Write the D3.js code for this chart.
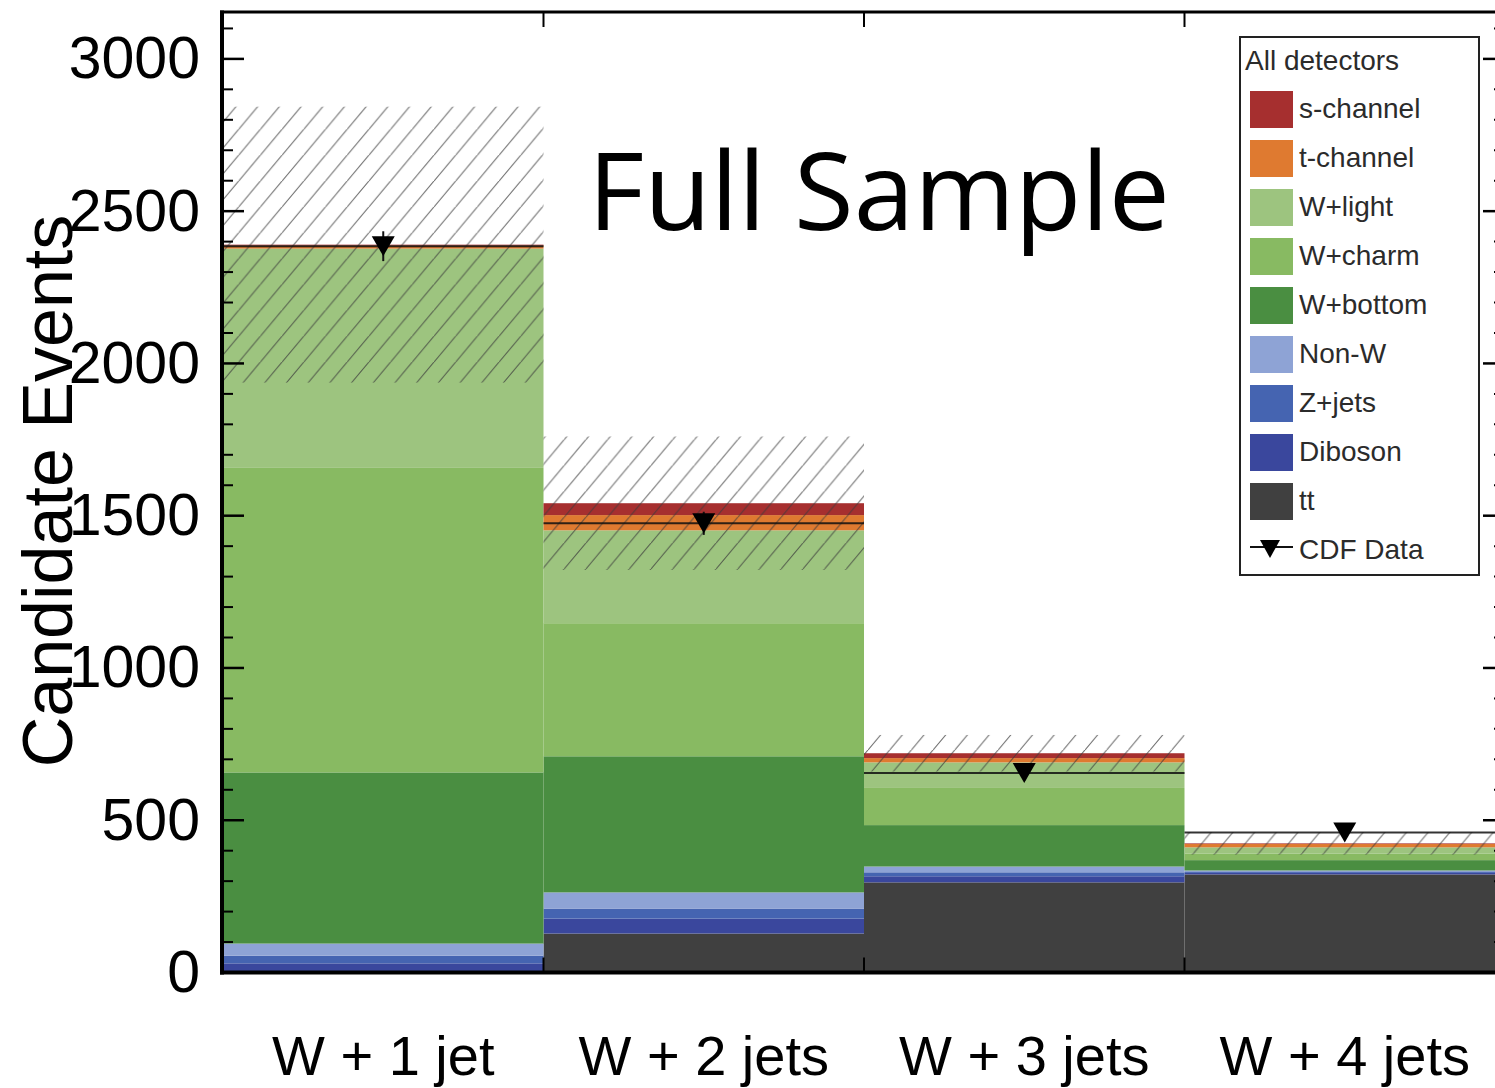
<!DOCTYPE html>
<html>
<head>
<meta charset="utf-8">
<script src="https://cdn.jsdelivr.net/npm/d3@7"></script>
<style>
  html, body { margin: 0; padding: 0; background: #fff; }
  svg { display: block; }
</style>
</head>
<body>
<svg id="chart" width="1495" height="1088"></svg>
<script>
// Jet-multiplicity bins
const categories = ["W + 1 jet", "W + 2 jets", "W + 3 jets", "W + 4 jets"];

// Predicted event yields per process (stacked bottom to top)
const ttbar     = [5, 128, 296, 322];
const diboson   = [25, 49, 20, 5];
const zJets     = [25, 33, 13, 5];
const nonW      = [40, 53, 19, 3];
const wBottom   = [562, 447, 136, 34];
const wCharm    = [1000, 437, 122, 22];
const wLight    = [720, 305, 84, 20];
const tChannel  = [10, 50, 14, 11];
const sChannel  = [3, 39, 16, 2];

// Total prediction uncertainty (+/-) per bin
const predUncert = [453, 219, 60, 37];

// Observed candidates and their statistical errors
const cdfData  = [2385, 1475, 655, 460];
const cdfError = [49, 38, 26, 21];

const yTickValues = [0, 500, 1000, 1500, 2000, 2500, 3000];
const processKeys   = ["tt", "Diboson", "Z+jets", "Non-W", "W+bottom", "W+charm", "W+light", "t-channel", "s-channel"];
const processValues = [ttbar, diboson, zJets, nonW, wBottom, wCharm, wLight, tChannel, sChannel];
const legendTitle = "All detectors";
const dataLabel = "CDF Data";
const headline = "Full Sample";
const yTitle = "Candidate Events";

// Fill colours, one per process key
const palette = {
  "tt": "#404040",
  "Diboson": "#3a479d",
  "Z+jets": "#4564b1",
  "Non-W": "#8ea3d5",
  "W+bottom": "#4a8e41",
  "W+charm": "#88ba62",
  "W+light": "#9dc47f",
  "t-channel": "#df7a30",
  "s-channel": "#a62f2f"
};

// Table for d3.stack: one row per bin
const table = categories.map((c, i) => {
  const row = { category: c };
  processKeys.forEach((k, j) => { row[k] = processValues[j][i]; });
  return row;
});
const stacked = d3.stack().keys(processKeys)(table);
const totals = table.map(r => d3.sum(processKeys, k => r[k]));

const svg = d3.select("#chart");
const frameL = 222, frameR = 1505, frameT = 12, frameB = 972.5;

const x = d3.scaleBand().domain(categories).range([frameL + 1, frameR]).paddingInner(0).paddingOuter(0);
const y = d3.scaleLinear().domain([0, 3154]).range([frameB, frameT]);

// Hatch pattern for the prediction uncertainty band
const defs = svg.append("defs");
const hw = 21.7, hh = hw * Math.tan(50 * Math.PI / 180);
const pat = defs.append("pattern")
  .attr("id", "hatch")
  .attr("patternUnits", "userSpaceOnUse")
  .attr("width", hw).attr("height", hh);
pat.append("path")
  .attr("d", `M0,${hh} L${hw},0 M${-hw},${hh} L0,0 M${hw},${2 * hh} L${2 * hw},${hh}`)
  .attr("stroke", "#3a3a3a").attr("stroke-width", 1.1).attr("stroke-opacity", 0.75).attr("fill", "none");

const plot = svg.append("g");

// Stacked histogram
plot.selectAll("g.layer")
  .data(stacked)
  .join("g")
  .attr("class", "layer")
  .attr("fill", d => palette[d.key])
  .selectAll("rect")
  .data(d => d)
  .join("rect")
  .attr("x", d => x(d.data.category))
  .attr("width", x.bandwidth())
  .attr("y", d => y(d[1]))
  .attr("height", d => Math.max(0, y(d[0]) - y(d[1])));

// Uncertainty band
plot.selectAll("rect.unc")
  .data(categories)
  .join("rect")
  .attr("class", "unc")
  .attr("x", c => x(c))
  .attr("width", x.bandwidth())
  .attr("y", (c, i) => y(totals[i] + predUncert[i]))
  .attr("height", (c, i) => y(totals[i] - predUncert[i]) - y(totals[i] + predUncert[i]))
  .attr("fill", "url(#hatch)");

// Observed data: horizontal level across the bin, error bar and marker
const dataG = plot.append("g");
categories.forEach((c, i) => {
  const cx = x(c) + x.bandwidth() / 2;
  const cy = y(cdfData[i]);
  dataG.append("line")
    .attr("x1", x(c)).attr("x2", x(c) + x.bandwidth())
    .attr("y1", cy).attr("y2", cy)
    .attr("stroke", "#111").attr("stroke-width", 2).attr("stroke-opacity", 0.85);
  dataG.append("line")
    .attr("x1", cx).attr("x2", cx)
    .attr("y1", y(cdfData[i] + cdfError[i])).attr("y2", y(cdfData[i] - cdfError[i]))
    .attr("stroke", "#111").attr("stroke-width", 2);
  dataG.append("path")
    .attr("d", `M${cx - 11.5},${cy - 10} L${cx + 11.5},${cy - 10} L${cx},${cy + 10} Z`)
    .attr("fill", "#000");
});

// Frame and ticks
const axisG = svg.append("g");
const minorTicks = d3.range(0, 3101, 100).filter(v => v % 500 !== 0);

function tickRow(g, x0, dir) {
  g.selectAll(null).data(yTickValues).join("line")
    .attr("x1", x0).attr("x2", x0 + dir * 22)
    .attr("y1", d => y(d)).attr("y2", d => y(d))
    .attr("stroke", "#000").attr("stroke-width", 2.5);
  g.selectAll(null).data(minorTicks).join("line")
    .attr("x1", x0).attr("x2", x0 + dir * 11)
    .attr("y1", d => y(d)).attr("y2", d => y(d))
    .attr("stroke", "#000").attr("stroke-width", 2);
}
tickRow(axisG.append("g"), frameL, 1);
tickRow(axisG.append("g"), frameR, -1);

// Bin-boundary ticks on top and bottom
const edges = categories.slice(1).map(c => x(c));
axisG.selectAll(null).data(edges).join("line")
  .attr("x1", d => d).attr("x2", d => d)
  .attr("y1", frameB).attr("y2", frameB - 15)
  .attr("stroke", "#000").attr("stroke-width", 2);
axisG.selectAll(null).data(edges).join("line")
  .attr("x1", d => d).attr("x2", d => d)
  .attr("y1", frameT).attr("y2", frameT + 15)
  .attr("stroke", "#000").attr("stroke-width", 2);

axisG.append("line").attr("x1", frameL).attr("x2", frameL).attr("y1", frameT - 1.5).attr("y2", frameB + 2)
  .attr("stroke", "#000").attr("stroke-width", 4);
axisG.append("line").attr("x1", frameL - 2).attr("x2", frameR).attr("y1", frameB).attr("y2", frameB)
  .attr("stroke", "#000").attr("stroke-width", 4);
axisG.append("line").attr("x1", frameL - 2).attr("x2", frameR).attr("y1", frameT).attr("y2", frameT)
  .attr("stroke", "#000").attr("stroke-width", 3);
axisG.append("line").attr("x1", frameR).attr("x2", frameR).attr("y1", frameT).attr("y2", frameB)
  .attr("stroke", "#000").attr("stroke-width", 3);

// Y tick labels
const yAxis = d3.axisLeft(y).tickValues(yTickValues).tickSize(0).tickPadding(22).tickFormat(d3.format("d"));
const yLab = svg.append("g").attr("transform", `translate(${frameL},0)`).call(yAxis);
yLab.select(".domain").remove();
yLab.selectAll("text")
  .attr("font-family", "'Liberation Sans', Arial, sans-serif")
  .attr("font-size", 59).attr("fill", "#000");

// X category labels
const xAxis = d3.axisBottom(x).tickSize(0).tickPadding(0);
const xLab = svg.append("g").attr("transform", `translate(0,${frameB})`).call(xAxis);
xLab.select(".domain").remove();
xLab.selectAll("text")
  .attr("font-family", "'Liberation Sans', Arial, sans-serif")
  .attr("font-size", 56).attr("fill", "#000")
  .attr("dy", null).attr("y", 102);

// Y axis title
svg.append("text")
  .attr("transform", "translate(72,491) rotate(-90)")
  .attr("text-anchor", "middle")
  .attr("font-family", "'Liberation Sans', Arial, sans-serif")
  .attr("font-size", 70).attr("fill", "#000")
  .text(yTitle);

// Headline
const head = svg.append("text")
  .attr("x", 588).attr("y", 230)
  .attr("font-family", "'Open Sans', 'Noto Sans', sans-serif")
  .attr("font-size", 112).attr("fill", "#000")
  .text(headline);
const hl = head.node().getComputedTextLength();
head.attr("font-size", 112 * 582 / hl);

// Legend
const legFont = 28;
const leg = svg.append("g");
leg.append("rect")
  .attr("x", 1240).attr("y", 37).attr("width", 239).attr("height", 538)
  .attr("fill", "#fff").attr("stroke", "#222").attr("stroke-width", 2);
leg.append("text")
  .attr("x", 1245).attr("y", 70)
  .attr("font-family", "'Liberation Sans', Arial, sans-serif")
  .attr("font-size", legFont).attr("fill", "#2b2b2b")
  .text(legendTitle);

const legendKeys = processKeys.slice().reverse();
const rows = leg.selectAll("g.row").data(legendKeys).join("g")
  .attr("class", "row")
  .attr("transform", (d, i) => `translate(0,${91 + i * 49})`);
rows.append("rect")
  .attr("x", 1250).attr("y", 0).attr("width", 43).attr("height", 37)
  .attr("fill", d => palette[d]);
rows.append("text")
  .attr("x", 1299).attr("y", 27)
  .attr("font-family", "'Liberation Sans', Arial, sans-serif")
  .attr("font-size", legFont).attr("fill", "#2b2b2b")
  .text(d => d);

const dRow = leg.append("g").attr("transform", `translate(0,${91 + legendKeys.length * 49})`);
dRow.append("line").attr("x1", 1250).attr("x2", 1293).attr("y1", 15).attr("y2", 15)
  .attr("stroke", "#111").attr("stroke-width", 2);
dRow.append("path").attr("d", "M1260,8 L1280,8 L1270,26 Z").attr("fill", "#000");
dRow.append("text")
  .attr("x", 1299).attr("y", 27)
  .attr("font-family", "'Liberation Sans', Arial, sans-serif")
  .attr("font-size", legFont).attr("fill", "#2b2b2b")
  .text(dataLabel);
</script>
</body>
</html>
